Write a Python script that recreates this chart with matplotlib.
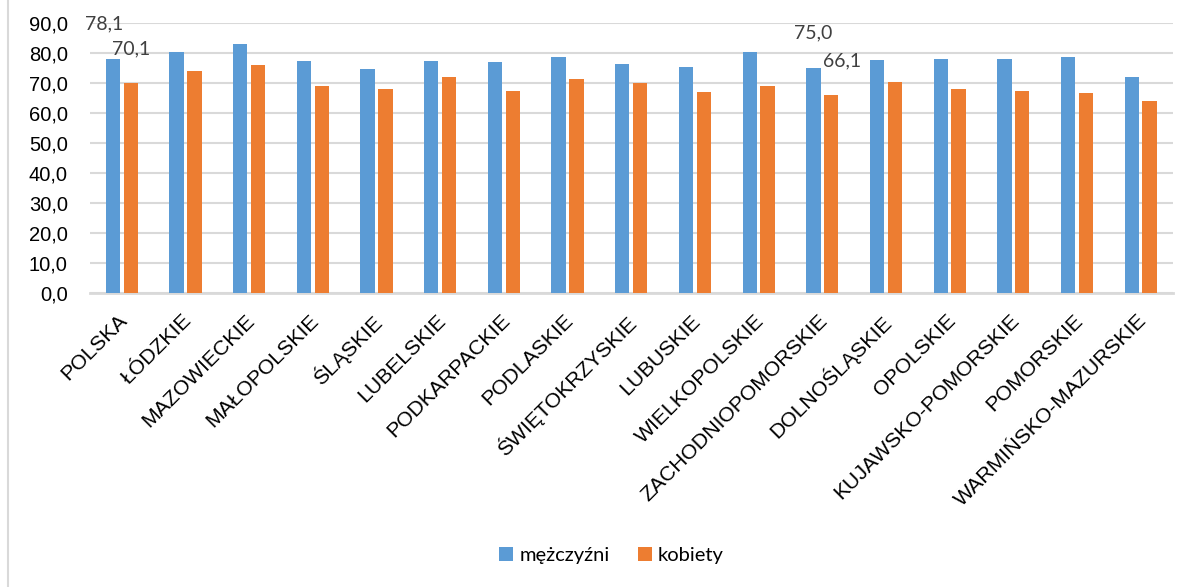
import numpy as np
import matplotlib.pyplot as plt
from matplotlib.lines import Line2D

regions = ["POLSKA", "ŁÓDZKIE", "MAZOWIECKIE", "MAŁOPOLSKIE", "ŚLĄSKIE",
           "LUBELSKIE", "PODKARPACKIE", "PODLASKIE", "ŚWIĘTOKRZYSKIE",
           "LUBUSKIE", "WIELKOPOLSKIE", "ZACHODNIOPOMORSKIE", "DOLNOŚLĄSKIE",
           "OPOLSKIE", "KUJAWSKO-POMORSKIE", "POMORSKIE", "WARMIŃSKO-MAZURSKIE"]
men = [78.1, 80.2, 83.0, 77.3, 74.7, 77.3, 76.8, 78.7, 76.4, 75.4, 80.4,
       75.0, 77.5, 77.9, 78.1, 78.5, 72.0]
women = [70.1, 74.1, 76.1, 69.1, 68.1, 71.8, 67.4, 71.4, 69.8, 67.0, 69.1,
         66.1, 70.3, 67.8, 67.3, 66.7, 63.8]
labelled = ["POLSKA", "ZACHODNIOPOMORSKIE"]
yticks = [0, 10, 20, 30, 40, 50, 60, 70, 80, 90]

blue = "#5B9BD5"
orange = "#ED7D31"
grid_c = "#D9D9D9"
label_font = ["Lato", "DejaVu Sans"]

plt.rcParams['font.family'] = ['Liberation Sans', 'DejaVu Sans']

fig = plt.figure(figsize=(11.87, 5.87), dpi=100)
ax = fig.add_axes([0.0758, 0.501, 0.912, 0.46])

x = np.arange(len(regions))
w = 0.225
off = 0.14
b1 = ax.bar(x - off, men, w, color=blue, zorder=3, label="mężczyźni")
b2 = ax.bar(x + off, women, w, color=orange, zorder=3, label="kobiety")

# value labels for the two highlighted categories, lifted above the bars
for name, dx_m, dx_w in [("POLSKA", -6, 0), ("ZACHODNIOPOMORSKIE", 0, 8)]:
    i = regions.index(name)
    ax.annotate(f"{men[i]:.1f}".replace(".", ","), (x[i] - off, men[i]),
                xytext=(dx_m, 25), textcoords="offset points",
                ha="center", va="center", fontsize=14, color="#404040",
                family=label_font)
    ax.annotate(f"{women[i]:.1f}".replace(".", ","), (x[i] + off, women[i]),
                xytext=(dx_w, 24), textcoords="offset points",
                ha="center", va="center", fontsize=14, color="#404040",
                family=label_font)

ax.set_xlim(-0.5, len(regions) - 0.5)
ax.set_ylim(0, 90)
ax.set_yticks(yticks)
ax.set_yticklabels([f"{t:.1f}".replace(".", ",") for t in yticks], fontsize=14.5)
ax.yaxis.grid(True, color=grid_c, linewidth=1.5, zorder=0)
ax.set_axisbelow(True)

# rotated labels end a little right of the category centre
ax.set_xticks(x + 0.15)
ax.set_xticklabels(regions, rotation=45, ha="right", va="top", fontsize=15.2)
ax.tick_params(axis="both", length=0)
ax.tick_params(axis="x", pad=13)
ax.tick_params(axis="y", pad=16)

for s in ["top", "right", "left"]:
    ax.spines[s].set_visible(False)
ax.spines["bottom"].set_color(grid_c)
ax.spines["bottom"].set_linewidth(2)

fig.legend(handles=[b1, b2], loc="center", bbox_to_anchor=(0.515, 0.054),
           ncol=2, frameon=False, handlelength=0.7, handleheight=0.7,
           handletextpad=0.3, columnspacing=1.4,
           prop={"family": label_font, "size": 14.5})

# thin frame line along the left edge
fig.add_artist(Line2D([0.007, 0.007], [0, 1], color=grid_c, linewidth=1.5,
                      transform=fig.transFigure))

fig.savefig("out.png", dpi=100)
